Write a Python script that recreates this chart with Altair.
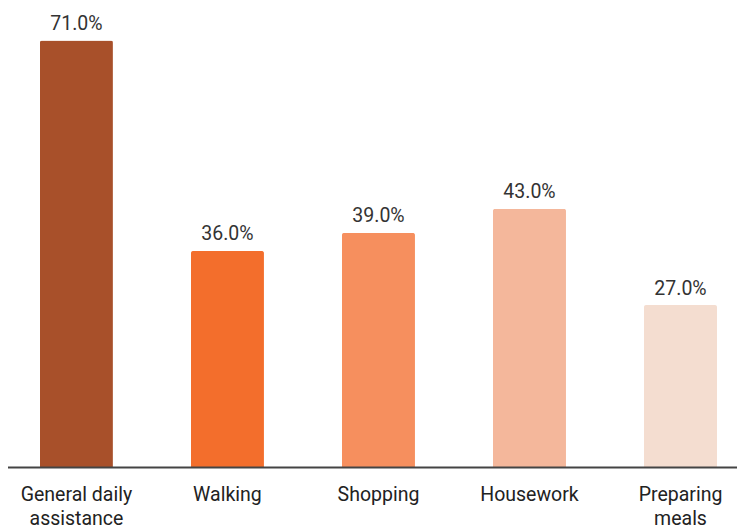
import altair as alt
import pandas as pd

categories = ["General daily assistance", "Walking", "Shopping", "Housework", "Preparing meals"]
values = [71.0, 36.0, 39.0, 43.0, 27.0]
colors = ["#A8502A", "#F36E2C", "#F68F5E", "#F4B79B", "#F4DDD0"]

df = pd.DataFrame({"category": categories, "value": values})
df["label"] = df["value"].map(lambda v: f"{v:.1f}%")

FONT = "Roboto"
W = 729
# step ~151, bandwidth ~73, first bar starting ~32 px right of the plot's left edge
x_scale = alt.Scale(paddingInner=0.5166, paddingOuter=0.172, align=0.615, round=False)

x_enc = alt.X(
    "category:N",
    sort=categories,
    title=None,
    scale=x_scale,
    axis=alt.Axis(
        domain=False,
        ticks=False,
        grid=False,
        labelAngle=0,
        labelFont=FONT,
        labelFontSize=19.5,
        labelColor="#222222",
        labelPadding=18,
        labelLineHeight=24,
        labelBaseline="top",
        labelExpr="datum.label == 'General daily assistance' ? ['General daily', 'assistance'] : datum.label == 'Preparing meals' ? ['Preparing', 'meals'] : datum.label",
    ),
)
y_scale = alt.Scale(domain=[0, 71], nice=False, zero=True, round=False)

base = alt.Chart(df)

bars = base.mark_bar(cornerRadiusTopLeft=2, cornerRadiusTopRight=2).encode(
    x=x_enc,
    y=alt.Y("value:Q", scale=y_scale, axis=None),
    color=alt.Color("category:N", scale=alt.Scale(domain=categories, range=colors), legend=None),
)

text = base.mark_text(
    font=FONT, fontSize=19.5, color="#333333", baseline="alphabetic", dy=-10.5
).encode(
    x=alt.X("category:N", sort=categories, scale=x_scale),
    y=alt.Y("value:Q", scale=y_scale, axis=None),
    text="label:N",
)

rule = alt.Chart(pd.DataFrame({"v": [0]})).mark_rule(color="#444444", strokeWidth=2, clip=False).encode(
    y=alt.Y("v:Q", scale=y_scale, axis=None),
    x=alt.value(-3),
    x2=alt.value(W),
)

chart = alt.layer(bars, text, rule).properties(
    width=W,
    height=427,
    background="white",
    autosize=alt.AutoSizeParams(type="none"),
    padding={"left": 0, "right": 0, "top": 32.5, "bottom": 59.5},
).configure_view(strokeWidth=0, stroke="transparent").configure_axis(grid=False)

chart.save("out.html", embed_options={"renderer": "svg", "actions": False})
